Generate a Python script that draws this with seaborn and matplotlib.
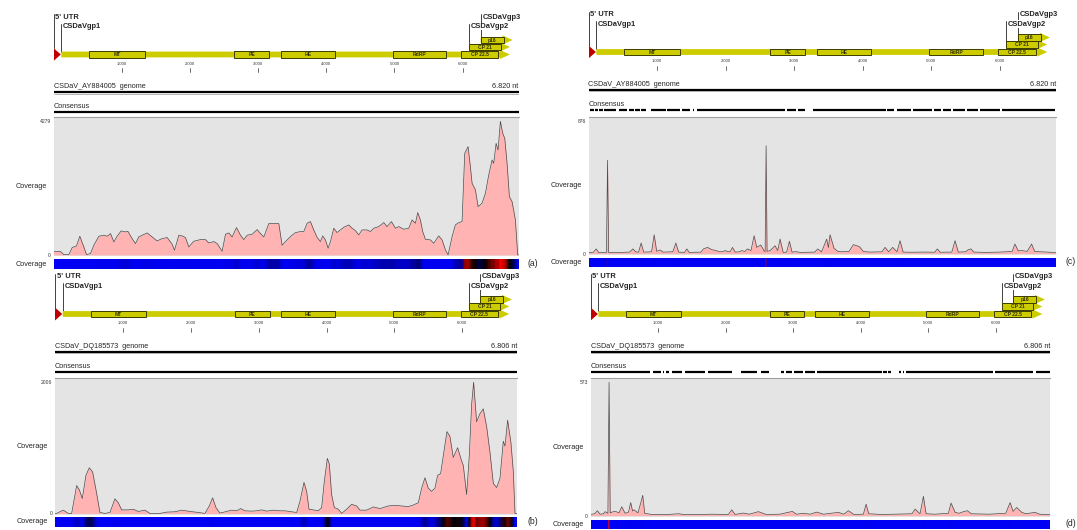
import numpy as np
import matplotlib
matplotlib.use("Agg")
import matplotlib.pyplot as plt
import seaborn as sns
from matplotlib.colors import LinearSegmentedColormap
from matplotlib.patches import Polygon, Rectangle

# ---- genome annotation (nt) ----
utr_end = 107
gene_names = ["CSDaVgp1", "CSDaVgp2", "CSDaVgp3"]
gene_starts = [114, 6097, 6264]
gene_ends = [6692, 6692, 6731]
gene_rows = [0, 1, 2]

domain_names = ["MT", "PE", "HE", "RdRP", "CP 22.5", "CP 21", "p16"]
domain_starts = [524, 2651, 3331, 4974, 5979, 6097, 6264]
domain_ends = [1336, 3160, 4123, 5755, 6522, 6557, 6600]
domain_rows = [0, 0, 0, 0, 0, 1, 2]

tick_pos = [1000, 2000, 3000, 4000, 5000, 6000]
tick_labels = ["1.000", "2.000", "3.000", "4.000", "5.000", "6.000"]

accessions = ["CSDaV_AY884005", "CSDaV_DQ185573", "CSDaV_AY884005", "CSDaV_DQ185573"]
genome_lengths = [6820, 6806, 6820, 6806]
length_labels = ["6.820 nt", "6.806 nt", "6.820 nt", "6.806 nt"]
cov_max = [4279, 2006, 876, 573]
panel_letters = ["(a)", "(b)", "(c)", "(d)"]

# ---- coverage profiles ----
a_pos = [0, 103, 151, 225, 274, 337, 386, 445, 484, 542,
         591, 665, 738, 787, 836, 885, 933, 992, 1056, 1090,
         1153, 1202, 1251, 1300, 1373, 1447, 1520, 1593, 1667, 1740,
         1774, 1838, 1901, 1935, 1984, 2057, 2155, 2228, 2277, 2351,
         2400, 2473, 2522, 2571, 2619, 2683, 2742, 2790, 2839, 2913,
         2986, 3035, 3084, 3157, 3230, 3304, 3352, 3401, 3474, 3548,
         3621, 3670, 3719, 3768, 3816, 3865, 3914, 3948, 3987, 4027,
         4061, 4110, 4158, 4207, 4256, 4330, 4378, 4427, 4476, 4525,
         4598, 4647, 4696, 4769, 4843, 4892, 4955, 5014, 5063, 5136,
         5209, 5258, 5307, 5341, 5380, 5414, 5453, 5527, 5576, 5649,
         5698, 5747, 5786, 5845, 5893, 5942, 5991, 6030, 6079, 6113,
         6138, 6187, 6226, 6284, 6333, 6382, 6431, 6455, 6490, 6519,
         6553, 6587, 6617, 6651, 6685, 6724, 6773, 6807, 6820]
a_cov = [110, 107, 10, 10, 235, 288, 598, 256, 10, 43,
         309, 598, 630, 598, 683, 416, 598, 768, 736, 758,
         523, 363, 576, 630, 704, 576, 448, 523, 555, 341,
         149, 630, 598, 555, 256, 437, 491, 491, 384, 427,
         363, 117, 662, 704, 576, 875, 630, 491, 630, 662,
         811, 683, 576, 1003, 1003, 1003, 309, 427, 587, 715,
         747, 747, 1014, 1067, 800, 566, 427, 608, 480, 213,
         427, 854, 715, 800, 886, 960, 854, 779, 640, 800,
         800, 747, 854, 907, 1035, 907, 1067, 854, 907, 822,
         854, 1120, 1014, 1355, 1120, 747, 502, 480, 373, 608,
         480, 160, 0, 587, 960, 1035, 1067, 3254, 3468, 2828,
         2294, 2081, 1547, 1654, 1974, 2561, 3041, 2934, 3574, 3361,
         4279, 3894, 3734, 2934, 1867, 1707, 1120, 0, 0]

b_pos = [0, 24, 122, 196, 245, 319, 358, 402, 456, 505, 554,
         604, 662, 736, 810, 883, 932, 982, 1080, 1154, 1227,
         1325, 1399, 1546, 1645, 1767, 1866, 1988, 2111, 2209, 2273,
         2322, 2371, 2430, 2528, 2602, 2676, 2735, 2798, 2897, 2970,
         3044, 3118, 3216, 3314, 3388, 3486, 3560, 3609, 3668,
         3707, 3742, 3805, 3879, 3928, 3967, 4012, 4041, 4075, 4115,
         4174, 4223, 4296, 4370, 4444, 4493, 4591, 4689, 4787, 4910,
         5008, 5107, 5205, 5278, 5352, 5401, 5450, 5499, 5548, 5597,
         5637, 5681, 5720, 5774, 5818, 5867, 5931, 5981, 6015, 6064,
         6103, 6138, 6167, 6211, 6260, 6309, 6359, 6408, 6457, 6506,
         6555, 6604, 6629, 6668, 6717, 6752, 6776, 6806]
b_cov = [0, 0, 50, 0, 0, 426, 361, 228, 584, 698, 634,
         361, 15, 0, 15, 223, 163, 54, 54, 64, 30,
         50, 0, 0, 20, 25, 50, 30, 15, 0, 114,
         238, 89, 5, 30, 50, 40, 74, 40, 35, 40,
         54, 35, 50, 40, 40, 25, 15, 188, 475,
         337, 64, 54, 40, 89, 485, 842, 757, 287, 89,
         64, 0, 64, 139, 114, 50, 50, 99, 74, 114,
         124, 114, 104, 129, 163, 386, 545, 386, 337, 386,
         584, 609, 881, 1252, 1178, 856, 1005, 832, 733, 287,
         881, 1673, 2006, 1401, 1525, 1599, 1327, 931, 460, 396,
         535, 1104, 1030, 1426, 1079, 634, 0, 0]

c_pos = [0, 70, 112, 150, 262, 278, 294, 420, 600, 647,
         690, 730, 768, 805, 920, 958, 995, 1045, 1090, 1230,
         1274, 1315, 1400, 1434, 1470, 1640, 1677, 1736, 1799, 1862,
         1910, 1960, 1993, 2040, 2070, 2100, 2140, 2200, 2236, 2280,
         2319, 2370, 2416, 2455, 2513, 2560, 2577, 2591, 2605, 2650,
         2722, 2760, 2795, 2840, 2890, 2931, 2970, 3014, 3100, 3300,
         3344, 3400, 3475, 3500, 3524, 3582, 3640, 3700, 3800, 3864,
         3952, 4010, 4100, 4280, 4326, 4380, 4438, 4500, 4545, 4590,
         4700, 4900, 5050, 5089, 5130, 5300, 5347, 5395, 5500, 5541,
         5580, 5620, 5800, 6000, 6180, 6221, 6270, 6318, 6400, 6464,
         6510, 6600, 6780, 6820]
c_cov = [6, 9, 31, 6, 8, 615, 8, 7, 10, 31,
         12, 9, 70, 10, 12, 124, 15, 24, 10, 12,
         70, 10, 8, 31, 8, 10, 31, 41, 26, 20,
         12, 13, 20, 12, 15, 41, 10, 12, 20, 14,
         31, 20, 118, 41, 57, 20, 12, 711, 15, 20,
         52, 20, 96, 8, 10, 81, 9, 13, 8, 10,
         31, 12, 96, 40, 124, 35, 14, 12, 14, 59,
         46, 14, 10, 12, 41, 12, 41, 12, 85, 10,
         9, 10, 9, 31, 9, 10, 85, 10, 12, 26,
         31, 10, 8, 10, 14, 63, 18, 20, 15, 63,
         14, 12, 8, 5]

d_pos = [0, 60, 99, 140, 190, 213, 255, 272, 289, 336,
         376, 420, 460, 510, 560, 593, 620, 642, 700, 741,
         771, 800, 900, 1100, 1299, 1400, 1600, 1800, 2040, 2090,
         2140, 2263, 2350, 2485, 2600, 2800, 2989, 3050, 3152, 3250,
         3349, 3450, 3670, 3750, 3819, 3900, 4040, 4081, 4120, 4300,
         4500, 4760, 4807, 4880, 4930, 4970, 5100, 5300, 5340, 5400,
         5460, 5523, 5582, 5640, 5900, 6150, 6215, 6260, 6313, 6388,
         6450, 6585, 6650, 6806]
d_cov = [5, 8, 21, 6, 8, 17, 10, 573, 12, 17,
         17, 12, 38, 10, 15, 56, 20, 25, 12, 54,
         87, 10, 5, 4, 8, 4, 5, 6, 5, 25,
         5, 11, 6, 17, 5, 6, 18, 6, 10, 6,
         15, 6, 14, 6, 21, 5, 6, 49, 8, 5,
         6, 8, 28, 8, 83, 8, 6, 10, 54, 14,
         10, 17, 21, 8, 6, 10, 56, 18, 35, 14,
         8, 14, 6, 4]

# consensus segments (start, end) in nt
a_cons = [(0, 6820)]
b_cons = [(0, 6806)]
c_cons = [(15, 73), (93, 132), (151, 209), (219, 404), (448, 559), (584, 666),
          (681, 744), (768, 841), (914, 1133), (1152, 1337), (1361, 1483),
          (1531, 1546), (1580, 2868), (2902, 3028), (3062, 3160), (3271, 4340),
          (4360, 4457), (4496, 4700), (4739, 5006), (5040, 5137), (5167, 5283),
          (5312, 5492), (5517, 5687), (5711, 6003), (6027, 6805)]
d_cons = [(0, 880), (930, 1040), (1065, 1090), (1110, 1160), (1200, 1350),
          (1390, 1690), (1745, 2090), (2230, 2460), (2525, 2640), (2820, 2860),
          (2890, 2990), (3015, 3150), (3175, 3320), (3350, 4310), (4335, 4385),
          (4410, 4445), (4575, 4595), (4625, 4645), (4665, 5965), (5990, 6560),
          (6600, 6806)]

# ---- layout (pixels) ----
W, H = 1077, 530
YELLOW = "#cccc00"
EDGE = "#3c3c00"

sns.set_style("white")
plt.rcParams['font.family'] = ['Liberation Sans', 'DejaVu Sans']

cov_cmap = LinearSegmentedColormap.from_list(
    "cov", [(0, "#0000f5"), (0.15, "#0000ee"), (0.45, "#000000"), (1, "#ff0000")])


def px_axes(fig, x0, y0, x1, y1):
    return fig.add_axes([x0 / W, 1 - y1 / H, (x1 - x0) / W, (y1 - y0) / H])


def draw_map(fig, x0, x1, off, length, accession, length_label, cons):
    ax = px_axes(fig, x0, off + 8, x1, off + 116)
    ax.set_xlim(0, length)
    ax.set_ylim(116, 8)
    ax.axis("off")
    nt = length / (x1 - x0)
    row_y = [54.5, 47.0, 40.0]

    # genes (arrows) and domains, row by row
    for r in [0, 1, 2]:
        for s, e, gr in zip(gene_starts, gene_ends, gene_rows):
            if gr != r:
                continue
            y = row_y[r]
            head = 10 * nt
            poly = [(s, y - 2.9), (e - head, y - 2.9), (e - head, y - 4.6), (e, y),
                    (e - head, y + 4.6), (e - head, y + 2.9), (s, y + 2.9)]
            ax.add_patch(Polygon(poly, closed=True, fc=YELLOW, ec="none", zorder=2 + r))
        for name, s, e, dr in zip(domain_names, domain_starts, domain_ends, domain_rows):
            if dr != r:
                continue
            y = row_y[r]
            ax.add_patch(Rectangle((s, y - 3.4), e - s, 6.8, fc=YELLOW, ec=EDGE,
                                   lw=0.7, zorder=2.5 + r))
            ax.text((s + e) / 2, y + 0.2, name, ha="center", va="center", fontsize=3.6,
                    fontweight="bold", color="#333300", zorder=2.6 + r)

    # 5' UTR marker
    ax.add_patch(Polygon([(0, 48), (utr_end, 54.5), (0, 61)], closed=True,
                         fc="#c00000", ec="none", zorder=5))

    # labels with leader lines
    labels = ["5' UTR"] + gene_names
    lpos = [0] + gene_starts
    ly = [17.3, 26.7, 26.7, 17.3]
    ltarget = [48, 51.5, 43.6, 36.6]
    for text, p, y, t in zip(labels, lpos, ly, ltarget):
        ax.plot([p, p], [y - 3.2, t], color="#222222", lw=0.6, zorder=1)
        ax.text(p + 1.8 * nt, y, text, ha="left", va="center", fontsize=5.4,
                fontweight="bold", zorder=6,
                bbox=dict(fc="white", ec="none", pad=0.2))

    # scale ticks
    for tp, tl in zip(tick_pos, tick_labels):
        ax.text(tp, 64, tl, ha="center", va="center", fontsize=3.0, color="#333333")
        ax.plot([tp, tp], [68, 72], color="#333333", lw=0.5)

    # genome line
    ax.text(0, 86.7, accession + "  genome", ha="left", va="center", fontsize=5.2)
    ax.text(length, 86.7, length_label, ha="right", va="center", fontsize=5.2)
    ax.plot([0, length], [92, 92], color="black", lw=1.6, solid_capstyle="butt")
    ax.plot([0, length], [93.6, 93.6], color="#999999", lw=0.5, solid_capstyle="butt")

    # consensus
    ax.text(0, 106.7, "Consensus", ha="left", va="center", fontsize=5.2)
    ax.hlines([112.3] * len(cons), [c[0] for c in cons], [c[1] for c in cons],
              color="black", lw=1.6)


def draw_cov(fig, x0, x1, y0, y1, length, pos, cov, ymax):
    ax = px_axes(fig, x0, y0, x1, y1)
    ax.set_facecolor("#e4e4e4")
    ax.fill_between(pos, cov, 0, color="#ffb3b3", lw=0)
    sns.lineplot(x=np.array(pos), y=np.array(cov), ax=ax, color="#4a4a4a", linewidth=0.5)
    top = ymax * 1.03
    ax.set_ylim(-0.008 * top, top)
    ax.set_xlim(0, length)
    ax.set_xticks([])
    ax.set_yticks([0, ymax])
    ax.set_yticklabels(["0", str(ymax)], fontsize=3.6, color="#333333")
    ax.tick_params(axis="y", length=0, pad=2)
    ax.set_xlabel("")
    ax.set_ylabel("")
    for side in ["left", "right", "bottom"]:
        ax.spines[side].set_visible(False)
    ax.spines["top"].set_color("#a0a0a0")
    ax.spines["top"].set_linewidth(0.8)
    ax.annotate("Coverage", xy=(0, 0.5), xycoords="axes fraction", xytext=(-5, 0),
                textcoords="offset points", ha="right", va="center", fontsize=5.2)


def draw_heat(fig, x0, x1, y0, y1, length, pos, cov, ymax):
    ax = px_axes(fig, x0, y0, x1, y1)
    p = np.array(pos, dtype=float)
    c = np.array(cov, dtype=float)
    X = np.vstack([p, p])
    Y = np.vstack([np.zeros_like(p), np.ones_like(p)])
    C = np.vstack([c, c])
    ax.pcolormesh(X, Y, C, shading="gouraud", cmap=cov_cmap, vmin=0, vmax=ymax)
    ax.set_xlim(0, length)
    ax.set_ylim(0, 1)
    ax.axis("off")
    ax.annotate("Coverage", xy=(0, 0.5), xycoords="axes fraction", xytext=(-5, 0),
                textcoords="offset points", ha="right", va="center", fontsize=5.2)


fig = plt.figure(figsize=(W / 100, H / 100), dpi=100)
fig.patch.set_facecolor("white")

panels = [
    # x0, x1, map offset, coverage top/bottom, heatmap top/bottom, letter x/y
    (53.5, 518.6, 0.0, 117.3, 256.0, 259.0, 269.3, 527, 263, a_pos, a_cov, a_cons),
    (55.0, 517.0, 259.5, 378.3, 514.5, 517.0, 526.7, 527, 521, b_pos, b_cov, b_cons),
    (588.5, 1056.0, -2.5, 116.7, 254.7, 257.7, 266.7, 1066, 262, c_pos, c_cov, c_cons),
    (590.7, 1050.0, 259.5, 378.3, 516.7, 520.0, 529.3, 1066, 523, d_pos, d_cov, d_cons),
]

for i, (x0, x1, off, cy0, cy1, hy0, hy1, lx, ly, pos, cov, cons) in enumerate(panels):
    draw_map(fig, x0, x1, off, genome_lengths[i], accessions[i], length_labels[i], cons)
    draw_cov(fig, x0, x1, cy0, cy1, genome_lengths[i], pos, cov, cov_max[i])
    draw_heat(fig, x0, x1, hy0, hy1, genome_lengths[i], pos, cov, cov_max[i])
    fig.text(lx / W, 1 - ly / H, panel_letters[i], ha="left", va="center", fontsize=6.2)

fig.savefig("out.png", dpi=100)
